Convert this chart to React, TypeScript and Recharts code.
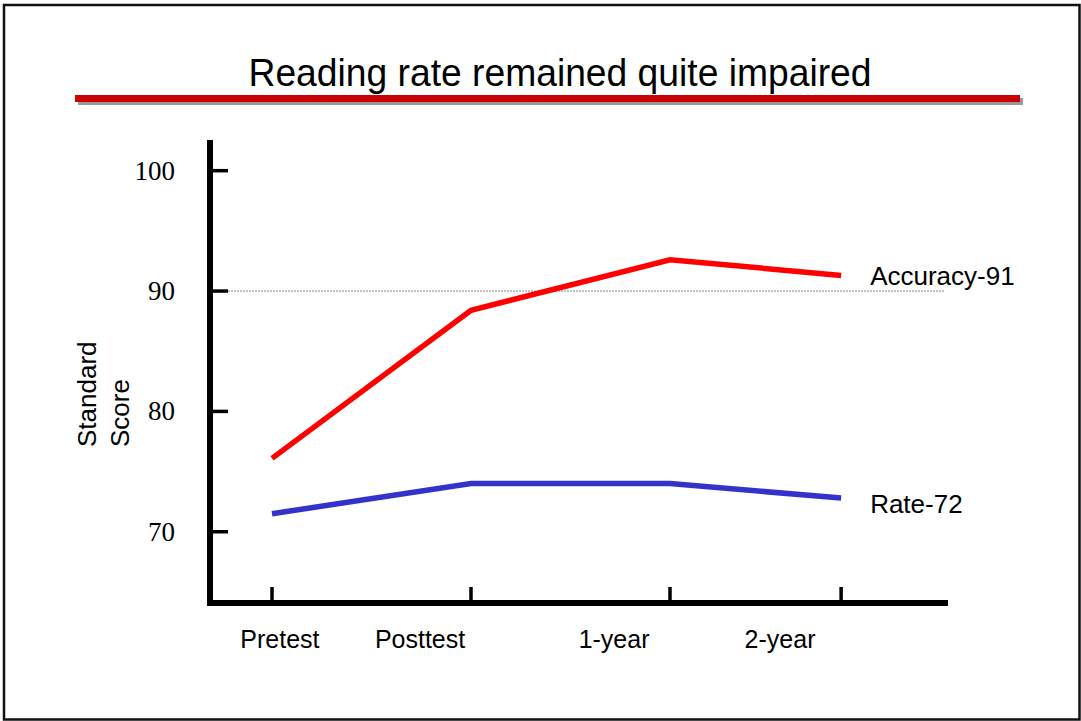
import { LineChart, Line, XAxis, YAxis, ReferenceLine } from "recharts";

// test occasions: position on the time axis (2-year sits closer to 1-year)
const occasionX = [0, 1, 2, 2.86];
// category labels, drawn a little off their ticks like the original slide
const occasionLabels = ["Pretest", "Posttest", "1-year", "2-year"];
const occasionLabelX = [0.04, 0.744, 1.719, 2.553];

const accuracy = [76.1, 88.4, 92.6, 91.3];
const rate = [71.5, 74.0, 74.0, 72.8];
const seriesNames = ["Accuracy-91", "Rate-72"];

const yTicks = [70, 80, 90, 100];
const yDomain: [number, number] = [64.08, 102.55];
const xDomain: [number, number] = [-0.3116, 3.382];

const title = "Reading rate remained quite impaired";
const yLabel = ["Standard", "Score"];

const data = occasionX.map((x, i) => ({
  x,
  accuracy: accuracy[i],
  rate: rate[i],
}));

const CHART_W = 1081;
const CHART_H = 721;
const MARGIN = { top: 140, right: 136, bottom: 88, left: 150 };
const Y_AXIS_W = 60;
const PLOT_W = CHART_W - MARGIN.left - MARGIN.right - Y_AXIS_W;
const PX_PER_UNIT = PLOT_W / (xDomain[1] - xDomain[0]);

const SANS = "'Liberation Sans', Arial, sans-serif";
const SERIF = "'Liberation Serif', 'Times New Roman', serif";

function YTick({ x, y, payload }: any) {
  return (
    <g>
      <line x1={x + 2} y1={y} x2={x + 18} y2={y} stroke="#000" strokeWidth={3.5} />
      <text x={x - 35} y={y + 9} textAnchor="end" fontFamily={SERIF} fontSize={27} fill="#000">
        {payload.value}
      </text>
    </g>
  );
}

function XTick({ x, y, index }: any) {
  const lx = x + (occasionLabelX[index] - occasionX[index]) * PX_PER_UNIT;
  return (
    <g>
      <line x1={x} y1={y - 3} x2={x} y2={y - 16} stroke="#000" strokeWidth={3.5} />
      <text x={lx} y={y + 45} textAnchor="middle" fontFamily={SANS} fontSize={25} fill="#000">
        {occasionLabels[index]}
      </text>
    </g>
  );
}

function endLabel(name: string, dy: number) {
  return (props: any) => {
    if (props.index !== occasionX.length - 1) return null;
    return (
      <text x={props.x + 29} y={props.y + dy} fontFamily={SANS} fontSize={26} fill="#000">
        {name}
      </text>
    );
  };
}

export default function App() {
  return (
    <div style={{ position: "absolute", left: 0, top: 0, width: CHART_W, height: CHART_H, background: "#fff" }}>
      <LineChart width={CHART_W} height={CHART_H} data={data} margin={MARGIN}>
        <YAxis
          type="number"
          domain={yDomain}
          ticks={yTicks}
          width={Y_AXIS_W}
          allowDataOverflow
          tickSize={0}
          tickMargin={0}
          tickLine={false}
          axisLine={{ stroke: "#000", strokeWidth: 6 }}
          tick={<YTick />}
        />
        <XAxis
          type="number"
          dataKey="x"
          domain={xDomain}
          ticks={occasionX}
          interval={0}
          allowDataOverflow
          height={30}
          tickSize={0}
          tickMargin={0}
          tickLine={false}
          axisLine={{ stroke: "#000", strokeWidth: 6, strokeLinecap: "square" }}
          tick={<XTick />}
        />
        <ReferenceLine
          segment={[
            { x: -0.221, y: 90 },
            { x: 3.382, y: 90 },
          ]}
          stroke="#666"
          strokeWidth={0.8}
          strokeDasharray="2 1"
        />
        <Line
          type="linear"
          dataKey="accuracy"
          stroke="#FF0000"
          strokeWidth={5.5}
          dot={false}
          isAnimationActive={false}
          label={endLabel(seriesNames[0], 10)}
        />
        <Line
          type="linear"
          dataKey="rate"
          stroke="#3333CC"
          strokeWidth={5.5}
          dot={false}
          isAnimationActive={false}
          label={endLabel(seriesNames[1], 15)}
        />
      </LineChart>

      <svg
        width={CHART_W}
        height={CHART_H}
        style={{ position: "absolute", left: 0, top: 0, pointerEvents: "none" }}
      >
        <rect x={4} y={5} width={1075.5} height={714.5} fill="none" stroke="#111" strokeWidth={2.5} />
        <text
          x={560}
          y={86}
          textAnchor="middle"
          fontFamily={SANS}
          fontSize={39}
          fill="#000"
          textLength={623}
          lengthAdjust="spacingAndGlyphs"
        >
          {title}
        </text>
        <rect x={78} y={98} width={945} height={7} fill="#999" />
        <rect x={75} y={95} width={945} height={7} fill="#CC0000" />
        <g transform="translate(96, 447) rotate(-90)">
          <text x={0} y={0} fontFamily={SANS} fontSize={26} fill="#000">
            {yLabel[0]}
          </text>
          <text x={0} y={33} fontFamily={SANS} fontSize={26} fill="#000">
            {yLabel[1]}
          </text>
        </g>
      </svg>
    </div>
  );
}
